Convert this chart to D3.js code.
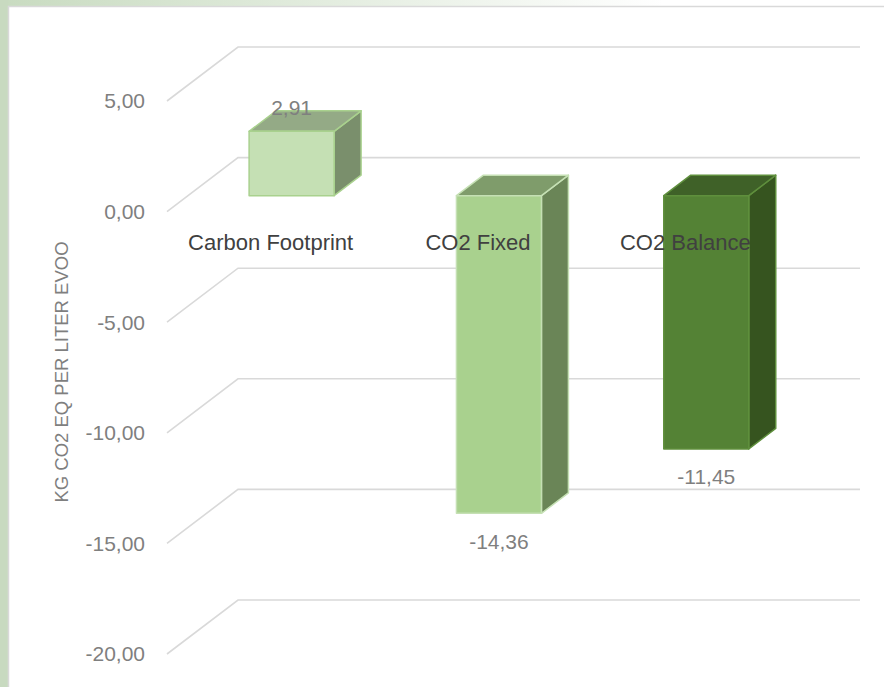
<!DOCTYPE html>
<html>
<head>
<meta charset="utf-8">
<script src="https://cdn.jsdelivr.net/npm/d3@7"></script>
<style>
  html, body { margin: 0; padding: 0; background: #fff; }
  svg { display: block; }
</style>
</head>
<body>
<div class="res"></div>
<script>
// data
const categories = ['Carbon Footprint', 'CO2 Fixed', 'CO2 Balance'];
const values = [2.91, -14.36, -11.45];
const valueLabels = ['2,91', '-14,36', '-11,45'];
const tickValues = [-20, -15, -10, -5, 0, 5];
const tickLabels = ['-20,00', '-15,00', '-10,00', '-5,00', '0,00', '5,00'];
const axisTitle = 'KG CO2 EQ PER LITER EVOO';

// bar colours: front, top, side, stroke
const barColors = [
    { front: '#c5e0b4', top: '#94aa86', side: '#7a8f6c', stroke: '#a9d18e' },
    { front: '#a9d18e', top: '#7f9c6b', side: '#6a8557', stroke: '#c5e0b4' },
    { front: '#548235', top: '#3f6128', side: '#36541f', stroke: '#5f8f3d' }
];

const W = 884, H = 687;
const font = 'Liberation Sans, Arial, sans-serif';

// depth of the 3d box (full wall depth)
const wallDx = 71, wallDy = -54;
// bars sit in the middle of the depth
const barD0 = 0.295, barDepth = 0.38, barFrac = 0.41;

const svg = d3.select('div.res')
    .append('svg')
    .attr('width', W)
    .attr('height', H);

/**
 * FRAME
 */
const defs = svg.append('defs');
const grad = defs.append('linearGradient').attr('id', 'topGrad')
    .attr('x1', '0%').attr('x2', '100%').attr('y1', '0%').attr('y2', '0%');
grad.append('stop').attr('offset', '0%').attr('stop-color', '#c8dbc0');
grad.append('stop').attr('offset', '75%').attr('stop-color', '#ffffff');

svg.append('rect').attr('x', 0).attr('y', 0).attr('width', W).attr('height', 7)
    .attr('fill', 'url(#topGrad)');
svg.append('rect').attr('x', 0).attr('y', 0).attr('width', 8).attr('height', H)
    .attr('fill', '#c8dac0');
svg.append('rect').attr('x', 8.5).attr('y', 6.5).attr('width', W).attr('height', H)
    .attr('fill', '#fff')
    .attr('stroke', '#d9d9d9')
    .attr('stroke-width', 1.5);

/**
 * SCALES (front plane)
 */
const yScale = d3.scaleLinear()
    .domain([-20, 5])
    .range([654, 101]);

const xScale = d3.scaleBand()
    .domain(categories)
    .range([167, 789])
    .padding(0);

const proj = (x, v, d) => [x + wallDx * d, yScale(v) + wallDy * d];

/**
 * GRIDLINES (side wall + back wall)
 */
const grid = svg.append('g');
tickValues.forEach(t => {
    const p0 = proj(167, t, 0), p1 = proj(167, t, 1), p2 = proj(789, t, 1);
    grid.append('polyline')
        .attr('points', [p0, p1, p2].map(p => p.join(',')).join(' '))
        .attr('fill', 'none')
        .attr('stroke', '#d9d9d9')
        .attr('stroke-width', 1.6);
});

// tick labels
svg.append('g').selectAll('text')
    .data(tickValues)
    .enter().append('text')
    .attr('x', 145)
    .attr('y', d => yScale(d))
    .attr('dy', '0.35em')
    .attr('text-anchor', 'end')
    .style('font-family', font)
    .style('font-size', '21px')
    .style('fill', '#7f7f7f')
    .text((d, i) => tickLabels[i]);

// axis title
svg.append('text')
    .attr('transform', `translate(68, 372) rotate(-90)`)
    .attr('text-anchor', 'middle')
    .style('font-family', font)
    .style('font-size', '18.5px')
    .style('fill', '#7f7f7f')
    .text(axisTitle);

/**
 * BARS
 */
const bars = svg.append('g');
categories.forEach((c, i) => {
    const v = values[i];
    const col = barColors[i];
    const bw = xScale.bandwidth() * barFrac;
    const x0 = xScale(c) + xScale.bandwidth() / 2 - bw / 2;
    const x1 = x0 + bw;
    const top = Math.max(v, 0), bot = Math.min(v, 0);
    const d0 = barD0, d1 = barD0 + barDepth;
    const pts = arr => arr.map(p => p.join(',')).join(' ');
    const g = bars.append('g')
        .attr('stroke', col.stroke)
        .attr('stroke-width', 1.5)
        .attr('stroke-linejoin', 'round');
    // side face
    g.append('polygon')
        .attr('points', pts([proj(x1, top, d0), proj(x1, top, d1), proj(x1, bot, d1), proj(x1, bot, d0)]))
        .attr('fill', col.side);
    // top face
    g.append('polygon')
        .attr('points', pts([proj(x0, top, d0), proj(x0, top, d1), proj(x1, top, d1), proj(x1, top, d0)]))
        .attr('fill', col.top);
    // front face
    g.append('polygon')
        .attr('points', pts([proj(x0, top, d0), proj(x1, top, d0), proj(x1, bot, d0), proj(x0, bot, d0)]))
        .attr('fill', col.front);

    // value label
    const cx = (x0 + x1) / 2 + wallDx * d0;
    const ly = v >= 0 ? proj(0, v, d0)[1] - 24 : proj(0, v, d0)[1] + 28;
    svg.append('text')
        .attr('class', 'vlabel')
        .attr('x', cx)
        .attr('y', ly)
        .attr('dy', '0.35em')
        .attr('text-anchor', 'middle')
        .style('font-family', font)
        .style('font-size', '21px')
        .style('fill', '#7f7f7f')
        .text(valueLabels[i]);
});

/**
 * CATEGORY LABELS
 */
svg.append('g').selectAll('text')
    .data(categories)
    .enter().append('text')
    .attr('x', d => xScale(d) + xScale.bandwidth() / 2)
    .attr('y', yScale(0) + 31)
    .attr('dy', '0.35em')
    .attr('text-anchor', 'middle')
    .style('font-family', font)
    .style('font-size', '22px')
    .style('fill', '#404040')
    .text(d => d);
</script>
</body>
</html>
